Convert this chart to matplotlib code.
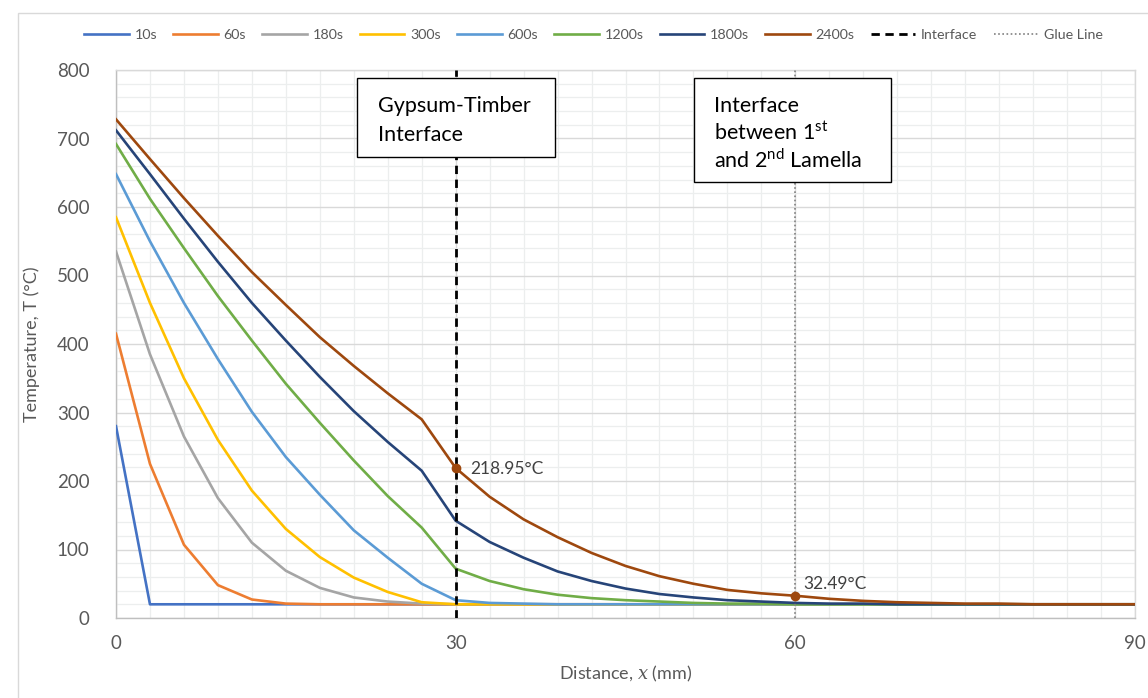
import matplotlib
matplotlib.use("Agg")
import matplotlib.pyplot as plt
from matplotlib.patches import Rectangle
from matplotlib.ticker import MultipleLocator
from matplotlib.lines import Line2D

plt.rcParams['font.family'] = ['Lato', 'DejaVu Sans']
plt.rcParams['mathtext.fontset'] = 'custom'
plt.rcParams['mathtext.rm'] = 'Lato'
plt.rcParams['mathtext.it'] = 'DejaVu Serif:italic'

# ---------------- data ----------------
distance = [0, 3, 6, 9, 12, 15, 18, 21, 24, 27, 30, 33, 36, 39, 42, 45,
            48, 51, 54, 57, 60, 63, 66, 69, 72, 75, 78, 81, 84, 87, 90]

t10 = [280, 20, 20, 20, 20, 20, 20, 20, 20, 20, 20, 20, 20, 20, 20, 20,
       20, 20, 20, 20, 20, 20, 20, 20, 20, 20, 20, 20, 20, 20, 20]
t60 = [415, 225, 107, 48, 27, 21, 20, 20, 20, 20, 20, 20, 20, 20, 20, 20,
       20, 20, 20, 20, 20, 20, 20, 20, 20, 20, 20, 20, 20, 20, 20]
t180 = [535, 385, 265, 175, 110, 69, 44, 30, 24, 21, 20, 20, 20, 20, 20, 20,
        20, 20, 20, 20, 20, 20, 20, 20, 20, 20, 20, 20, 20, 20, 20]
t300 = [585, 460, 350, 260, 186, 130, 89, 59, 38, 23, 20, 20, 20, 20, 20, 20,
        20, 20, 20, 20, 20, 20, 20, 20, 20, 20, 20, 20, 20, 20, 20]
t600 = [648, 550, 460, 378, 301, 235, 180, 128, 88, 50, 26, 22, 21, 20, 20, 20,
        20, 20, 20, 20, 20, 20, 20, 20, 20, 20, 20, 20, 20, 20, 20]
t1200 = [692, 612, 540, 470, 405, 342, 285, 230, 178, 132, 72, 54, 42, 34, 29, 26,
         24, 22, 21, 21, 20, 20, 20, 20, 20, 20, 20, 20, 20, 20, 20]
t1800 = [712, 648, 583, 520, 460, 405, 352, 302, 257, 215, 142, 111, 88, 68, 54, 43,
         35, 30, 26, 24, 22, 21, 21, 20, 20, 20, 20, 20, 20, 20, 20]
t2400 = [728, 670, 613, 558, 505, 457, 410, 368, 328, 290, 218.95, 177, 144, 118, 95, 76,
         61, 50, 41, 36, 32.49, 28, 25, 23, 22, 21, 21, 20, 20, 20, 20]

series_labels = ['10s', '60s', '180s', '300s', '600s', '1200s', '1800s', '2400s']
series_values = [t10, t60, t180, t300, t600, t1200, t1800, t2400]
series_colors = ['#4472C4', '#ED7D31', '#A5A5A5', '#FFC000', '#5B9BD5',
                 '#70AD47', '#264478', '#9E480E']

interface_x = 30
glue_x = 60
marked_points = [(30, 218.95), (60, 32.49)]
marked_labels = ['218.95°C', '32.49°C']

# ---------------- figure ----------------
fig = plt.figure(figsize=(11.48, 6.98), dpi=100)
ax = fig.add_axes([116/1148, 1 - 618/698, (1135-116)/1148, (618-70)/698])

# outer chart border
fig.patches.append(Rectangle((18/1148, -0.01), 1.0, 1 - 13/698 + 0.01,
                             transform=fig.transFigure, fill=False,
                             edgecolor='#D9D9D9', linewidth=1.0))

ax.set_xlim(0, 90)
ax.set_ylim(0, 800)
ax.xaxis.set_major_locator(MultipleLocator(30))
ax.xaxis.set_minor_locator(MultipleLocator(3))
ax.yaxis.set_major_locator(MultipleLocator(100))
ax.yaxis.set_minor_locator(MultipleLocator(20))
ax.grid(which='major', color='#D9D9D9', linewidth=1.0)
ax.grid(which='minor', color='#ECEEEE', linewidth=0.9)
ax.set_axisbelow(True)
for s in ax.spines.values():
    s.set_color('#D9D9D9')
    s.set_linewidth(1.0)
ax.spines['left'].set_color('#BFBFBF')
ax.spines['bottom'].set_color('#BFBFBF')
ax.tick_params(which='both', length=0)
ax.tick_params(axis='y', pad=19, labelsize=13.5, labelcolor='#595959')
ax.tick_params(axis='x', pad=12, labelsize=13.5, labelcolor='#595959')

handles = []
for lab, vals, col in zip(series_labels, series_values, series_colors):
    h, = ax.plot(distance, vals, color=col, linewidth=1.9, label=lab,
                 solid_joinstyle='round', zorder=3)
    handles.append(h)

h_int = ax.axvline(interface_x, color='black', linestyle=(0, (3, 2)),
                   linewidth=2.0, zorder=4, label='Interface')
h_glue = ax.axvline(glue_x, color='#808080', linestyle=(0, (1, 1.5)),
                    linewidth=1.2, zorder=4, label='Glue Line')

for (px, py), lab in zip(marked_points, marked_labels):
    ax.plot([px], [py], 'o', color='#9E480E', markersize=6, zorder=5)

ax.text(31.3, 217, marked_labels[0], fontsize=12.5, color='#404040',
        va='center', ha='left', zorder=6)
ax.text(60.7, 50, marked_labels[1], fontsize=12.5, color='#404040',
        va='center', ha='left', zorder=6)

# annotation boxes
ax.add_patch(Rectangle((21.3, 673), 17.5, 115, facecolor='white',
                       edgecolor='black', linewidth=1.0, zorder=6))
ax.text(23.1, 738, 'Gypsum-Timber', fontsize=15.5, va='baseline', zorder=7)
ax.text(23.1, 697, 'Interface', fontsize=15.5, va='baseline', zorder=7)

ax.add_patch(Rectangle((51.06, 636.5), 17.4, 151.5, facecolor='white',
                       edgecolor='black', linewidth=1.0, zorder=6))
ax.text(52.8, 739, 'Interface', fontsize=15.5, va='baseline', zorder=7)
ax.text(52.8, 698, 'between 1$^{\\mathrm{st}}$', fontsize=15.5, va='baseline', zorder=7)
ax.text(52.8, 657, 'and 2$^{\\mathrm{nd}}$ Lamella', fontsize=15.5, va='baseline', zorder=7)

ax.set_xlabel('Distance, $\\mathit{x}$ (mm)', fontsize=13, color='#595959', labelpad=9)
ax.set_ylabel('Temperature, T (°C)', fontsize=13, color='#595959', labelpad=12)

leg_handles = handles + [
    Line2D([], [], color='black', linestyle=(0, (3, 2)), linewidth=2.0),
    Line2D([], [], color='#808080', linestyle=(0, (1, 1.5)), linewidth=1.2)]
leg_labels = series_labels + ['Interface', 'Glue Line']
fig.legend(leg_handles, leg_labels, loc='center', bbox_to_anchor=(0.517, 1 - 35/698),
           ncol=10, frameon=False, fontsize=10.3, handlelength=3.1,
           columnspacing=1.15, handletextpad=0.4, labelcolor='#595959')

fig.savefig('out.png', dpi=100)
